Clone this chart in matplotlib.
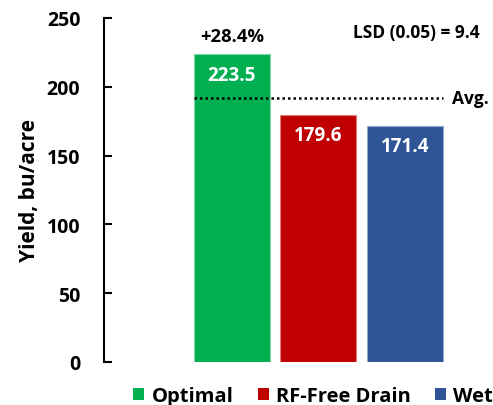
import matplotlib
matplotlib.use("Agg")
import matplotlib.pyplot as plt
from matplotlib.patches import Patch

plt.rcParams['font.family'] = ['Open Sans', 'DejaVu Sans']
W = 'bold'

categories = ["Optimal", "RF-Free Drain", "Wet"]
values = [223.5, 179.6, 171.4]
value_labels = ["223.5", "179.6", "171.4"]
colors = ["#00B050", "#C00000", "#2F5597"]
edge_colors = ["#7FD7A7", "#E07F7F", "#8FA8CE"]
avg_value = sum(values) / len(values)
pct_label = "+28.4%"
lsd_label = "LSD (0.05) = 9.4"
yticks = [0, 50, 100, 150, 200, 250]

fig = plt.figure(figsize=(4.93, 4.06), dpi=100)
ax = fig.add_axes([104/493, 43/406, 376/493, 344/406])

x = list(range(len(categories)))
ax.bar(x, values, width=0.88, color=colors, edgecolor=edge_colors, linewidth=0.8)

for xi, v, lab in zip(x, values, value_labels):
    ax.text(xi, v - 7.5, lab, ha='center', va='top', color='white',
            fontsize=13.5, fontweight=W)

ax.text(0, values[0] + 7, pct_label, ha='center', va='bottom', color='black',
        fontsize=13.3, fontweight=W)

ax.plot([-0.44, 2.44], [avg_value, avg_value], linestyle=(0, (1, 1.2)), color='black', linewidth=1.8)
ax.text(2.55, avg_value, "Avg.", ha='left', va='center', fontsize=12.5, fontweight=W)
ax.text(2.87, 240, lsd_label, ha='right', va='center', fontsize=12.5, fontweight=W)

ax.set_xlim(-1.48, 2.87)
ax.set_ylim(0, 250)
ax.set_yticks(yticks)
ax.set_yticklabels([str(t) for t in yticks], fontsize=14, fontweight=W)
ax.tick_params(axis='y', direction='in', length=6, width=1.5, pad=17)
ax.set_xticks([])
for s in ['top', 'right', 'bottom']:
    ax.spines[s].set_visible(False)
ax.spines['left'].set_linewidth(1.5)
ax.set_ylabel("Yield, bu/acre", fontsize=15, fontweight=W, labelpad=5)

handles = [Patch(facecolor=c, edgecolor='none') for c in colors]
fig.legend(handles, categories, loc='center', bbox_to_anchor=(0.635, 1 - 397/406),
           ncol=3, frameon=False, handlelength=0.55, handleheight=0.55,
           handletextpad=0.36, columnspacing=1.2, borderpad=0,
           prop={'weight': W, 'size': 14.5})

fig.savefig("out.png", dpi=100)
